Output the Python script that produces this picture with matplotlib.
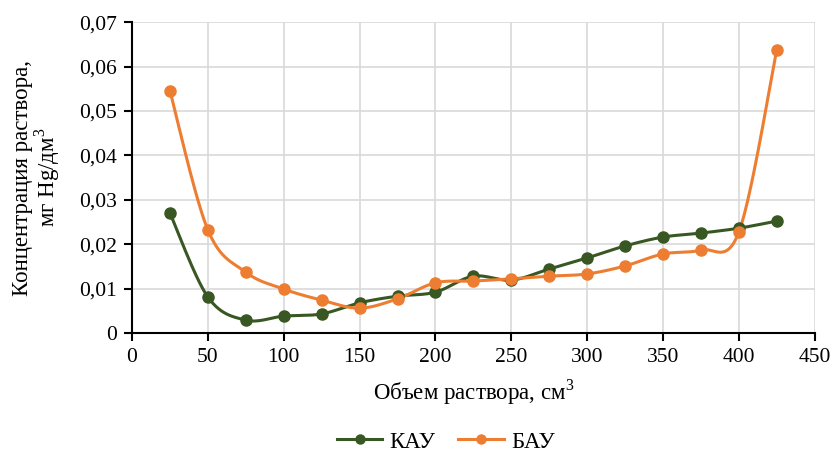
import numpy as np
import matplotlib
matplotlib.use("Agg")
import matplotlib.pyplot as plt
from matplotlib.ticker import FuncFormatter, MultipleLocator
from matplotlib.lines import Line2D

plt.rcParams['font.family'] = ['Liberation Serif', 'DejaVu Serif']
plt.rcParams['mathtext.fontset'] = 'custom'
plt.rcParams['mathtext.rm'] = 'Liberation Serif'

x_vals = [25, 50, 75, 100, 125, 150, 175, 200, 225, 250, 275, 300, 325, 350, 375, 400, 425]
kau = [0.0270, 0.0081, 0.0029, 0.0038, 0.0043, 0.0068, 0.0083, 0.0092, 0.0128, 0.0119,
       0.0144, 0.0169, 0.0196, 0.0216, 0.0225, 0.0236, 0.0252]
bau = [0.0545, 0.0232, 0.0137, 0.0099, 0.0074, 0.0056, 0.0077, 0.0113, 0.0117, 0.0122,
       0.0128, 0.0133, 0.0151, 0.0178, 0.0187, 0.0227, 0.0637]
series_names = ["КАУ", "БАУ"]
colors = ["#385723", "#ED7D31"]


def smooth(xs, ys, n=30):
    xs = np.asarray(xs, float)
    ys = np.asarray(ys, float)
    px, py = [], []
    m = len(xs)
    for i in range(m - 1):
        x0, y0 = (xs[i - 1], ys[i - 1]) if i > 0 else (xs[i], ys[i])
        x1, y1 = xs[i], ys[i]
        x2, y2 = xs[i + 1], ys[i + 1]
        x3, y3 = (xs[i + 2], ys[i + 2]) if i + 2 < m else (xs[i + 1], ys[i + 1])
        c1x, c1y = x1 + (x2 - x0) / 6, y1 + (y2 - y0) / 6
        c2x, c2y = x2 - (x3 - x1) / 6, y2 - (y3 - y1) / 6
        t = np.linspace(0, 1, n)
        bx = (1 - t) ** 3 * x1 + 3 * (1 - t) ** 2 * t * c1x + 3 * (1 - t) * t ** 2 * c2x + t ** 3 * x2
        by = (1 - t) ** 3 * y1 + 3 * (1 - t) ** 2 * t * c1y + 3 * (1 - t) * t ** 2 * c2y + t ** 3 * y2
        px.extend(bx)
        py.extend(by)
    return np.array(px), np.array(py)


fig = plt.figure(figsize=(8.33, 4.51), dpi=100)
ax = fig.add_axes([0.1585, 0.2616, 0.8195, 0.6894])

for ys, c in zip([kau, bau], colors):
    sx, sy = smooth(x_vals, ys)
    ax.plot(sx, sy, color=c, lw=2.2, zorder=3)
    ax.plot(x_vals, ys, 'o', color=c, ms=8, zorder=4)

ax.set_xlim(0, 450)
ax.set_ylim(0, 0.07)
ax.xaxis.set_major_locator(MultipleLocator(50))
ax.yaxis.set_major_locator(MultipleLocator(0.01))
ax.yaxis.set_major_formatter(FuncFormatter(lambda v, p: "0" if abs(v) < 1e-9 else f"{v:.2f}".replace(".", ",")))
ax.grid(True, color="#d9d9d9", lw=1.2, zorder=0)
ax.set_axisbelow(True)
for s in ["top", "right"]:
    ax.spines[s].set_visible(False)
for s in ["left", "bottom"]:
    ax.spines[s].set_linewidth(1.5)
    ax.spines[s].set_color("black")
ax.tick_params(axis="both", direction="out", length=6, width=1.5, labelsize=15.5, colors="black")
ax.tick_params(axis="x", pad=5)
ax.tick_params(axis="y", pad=5)

ax.set_xlabel("Объем раствора, см$^3$", fontsize=16.5, labelpad=7)
ax.set_ylabel("Концентрация раствора,\nмг Hg/дм$^3$", fontsize=16.5, labelpad=12, linespacing=1.0)

handles = [Line2D([0], [0], color=c, lw=2.2, marker='o', ms=6.5) for c in colors]
fig.legend(handles, series_names, loc="center", bbox_to_anchor=(0.535, 0.02), ncol=2,
           frameon=False, fontsize=16.5, handlelength=2.0, columnspacing=1.0, handletextpad=0.3)

fig.savefig("out.png", dpi=100)
